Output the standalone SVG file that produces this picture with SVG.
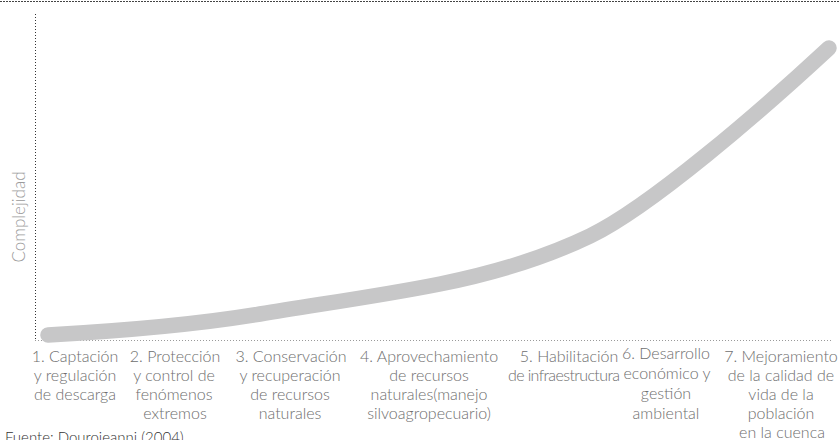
<svg xmlns="http://www.w3.org/2000/svg" width="839" height="440" viewBox="0 0 839 440">
<style>
.lbl{font-family:Lato,"Liberation Sans",sans-serif;font-weight:300;font-size:16px;fill:#6e6e6e;text-anchor:middle}
.src{font-family:Lato,"Liberation Sans",sans-serif;font-weight:300;font-size:15px;fill:#333333}
.ax{font-family:Lato,"Liberation Sans",sans-serif;font-weight:300;font-size:17px;fill:#9a9a9a;text-anchor:middle}
</style>
<rect width="839" height="440" fill="#ffffff"/>
<g id="frame">
<line x1="0" y1="1.5" x2="839" y2="1.5" stroke="#444" stroke-width="1" stroke-dasharray="2 1"/>
</g>
<g id="axes">
<line x1="35.5" y1="14" x2="35.5" y2="340" stroke="#333" stroke-width="1" stroke-dasharray="1 2"/>
<line x1="35" y1="340.5" x2="832" y2="340.5" stroke="#9a9a9a" stroke-width="1" stroke-dasharray="1 2"/>
</g>
<g id="curve">
<path d="M48,335 C120,331 200,324 260,314 C320,304 380,296 440,284 C490,274 540,260 590,236 C650,207 760,112 829,48" fill="none" stroke="#c7c7c8" stroke-width="15.5" stroke-linecap="round"/>
</g>
<g id="ylabel"><text class="ax" transform="translate(25,217) rotate(-90)">Complejidad</text></g>
<g id="l1"><text class="lbl" x="75" y="362">1. Captación</text><text class="lbl" x="75" y="381">y regulación</text><text class="lbl" x="75" y="400">de descarga</text></g>
<g id="l2"><text class="lbl" x="175" y="362">2. Protección</text><text class="lbl" x="174" y="381">y control de</text><text class="lbl" x="174" y="400">fenómenos</text><text class="lbl" x="175" y="419">extremos</text></g>
<g id="l3"><text class="lbl" x="291" y="362">3. Conservación</text><text class="lbl" x="290" y="381">y recuperación</text><text class="lbl" x="290" y="400">de recursos</text><text class="lbl" x="290" y="419">naturales</text></g>
<g id="l4"><text class="lbl" x="429" y="362">4. Aprovechamiento</text><text class="lbl" x="429" y="381">de recursos</text><text class="lbl" x="429" y="400">naturales(manejo</text><text class="lbl" x="429" y="419">silvoagropecuario)</text></g>
<g id="l5"><text class="lbl" x="569" y="362">5. Habilitación</text><text class="lbl" x="564" y="381" textLength="112" lengthAdjust="spacing">de infraestructura</text></g>
<g id="l6"><text class="lbl" x="666" y="359">6. Desarrollo</text><text class="lbl" x="667" y="379">económico y</text><text class="lbl" x="666" y="399">gestión</text><text class="lbl" x="666" y="418.5">ambiental</text></g>
<g id="l7"><text class="lbl" x="781" y="362">7. Mejoramiento</text><text class="lbl" x="781" y="381">de la calidad de</text><text class="lbl" x="781" y="400">vida de la</text><text class="lbl" x="781" y="419">población</text><text class="lbl" x="782" y="437.5">en la cuenca</text></g>
<g id="source"><text class="src" x="5" y="443">Fuente: Dourojeanni (2004)</text></g>
</svg>
